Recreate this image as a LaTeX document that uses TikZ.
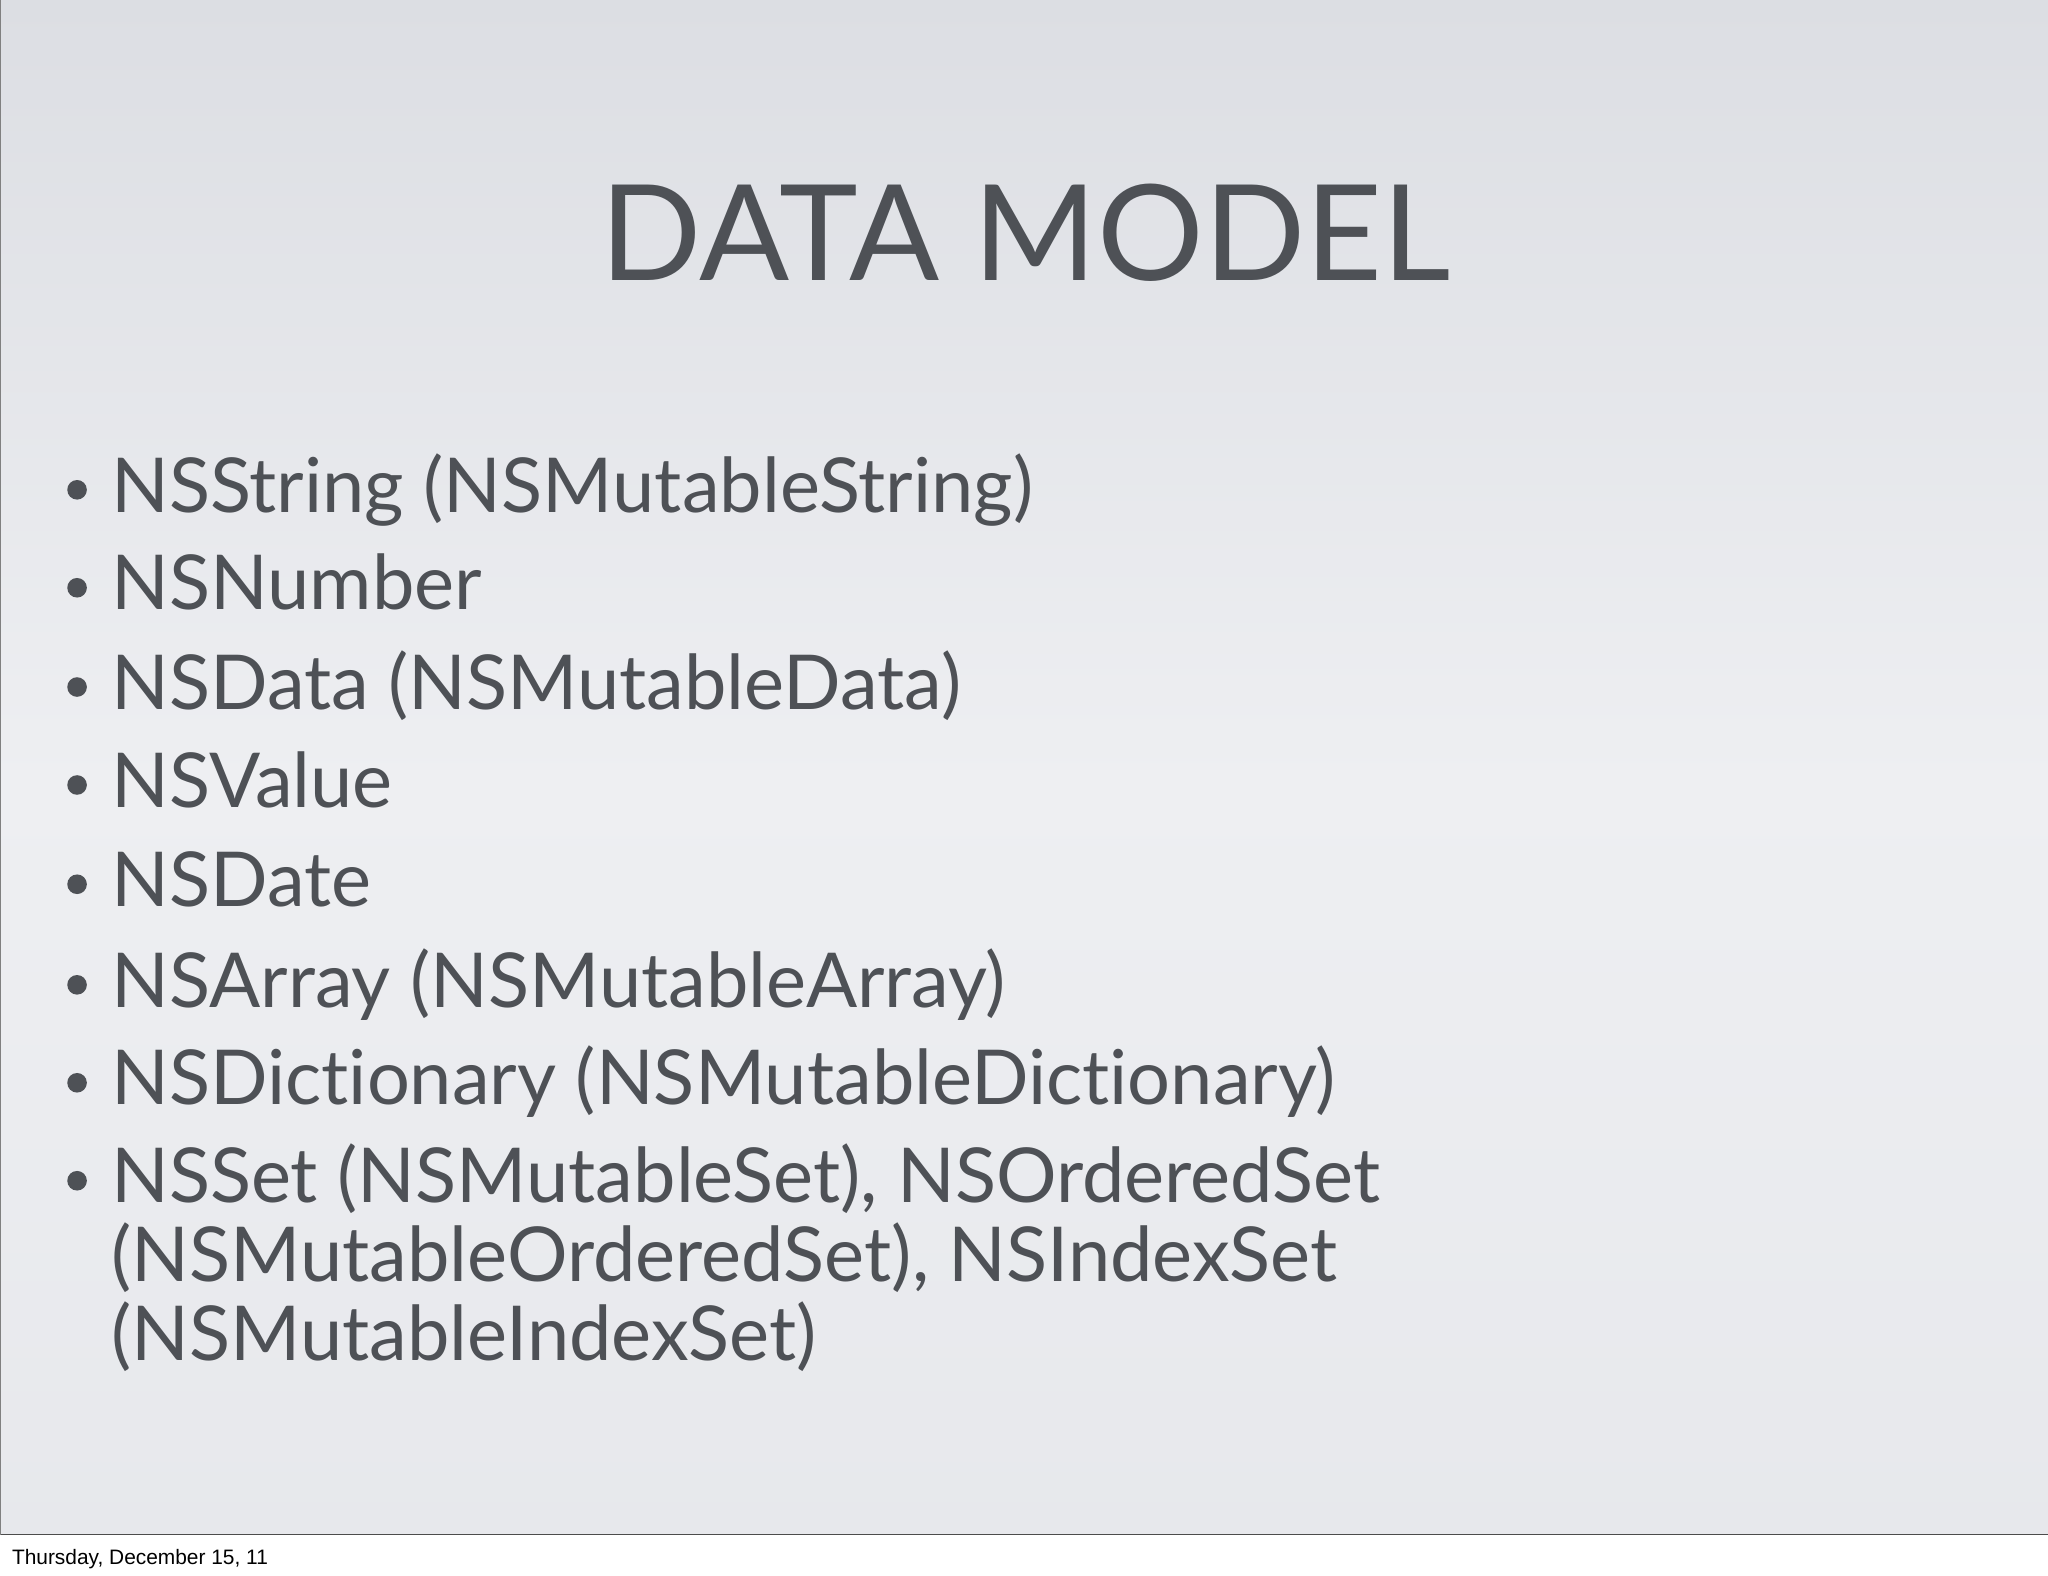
\documentclass[tikz,border=0pt]{standalone}
\usepackage{fontspec}
\setmainfont{Lato}[Ligatures={NoCommon,NoRare}]
\newfontfamily\footfont{Liberation Sans}
\definecolor{txt}{HTML}{4E5156}
\definecolor{bgtop}{HTML}{DCDEE3}
\definecolor{bgmid}{HTML}{EEEFF2}
\begin{document}
\begin{tikzpicture}[x=1pt,y=-1pt,
  item/.style={anchor=base west,inner sep=0pt,text=txt,font=\fontsize{58}{58}\selectfont},
  dot/.style={circle,fill=txt,draw=none,inner sep=0pt,minimum size=15pt}]
\useasboundingbox (0,0) rectangle (1568,1206);
\fill[white] (0,0) rectangle (1568,1206);
\shade[top color=bgtop,bottom color=bgmid] (0,0) rectangle (1568,600);
\shade[top color=bgmid,bottom color=bgmid!60!bgtop] (0,600) rectangle (1568,1175);
\draw[black!70,line width=1pt] (0,1175) -- (1568,1175);
\draw[black!50,line width=0.8pt] (0.5,0) -- (0.5,1175);
\node[anchor=base west,inner sep=0pt,font=\footfont\fontsize{16}{16}\selectfont] (foot) at (9,1198) {Thursday, December 15, 11};
\node[anchor=base,inner sep=0pt,text=txt,font=\fontsize{102}{102}\selectfont] (title) at (785,215) {DATA MODEL};
\foreach \y/\t [count=\i] in {392/{NSString (NSMutableString)},467/NSNumber,543/{NSData (NSMutableData)},618/NSValue,694/NSDate,771/{NSArray (NSMutableArray)},846/{NSDictionary (NSMutableDictionary)},921/{NSSet (NSMutableSet), NSOrderedSet}}{
  \node[item] (b\i) at (85,\y) {\t};
  \node[dot] (d\i) at (59,\y-17) {};
}
\node[item] (c1) at (85,981) {(NSMutableOrderedSet), NSIndexSet};
\node[item] (c2) at (85,1042) {(NSMutableIndexSet)};
\end{tikzpicture}
\end{document}
